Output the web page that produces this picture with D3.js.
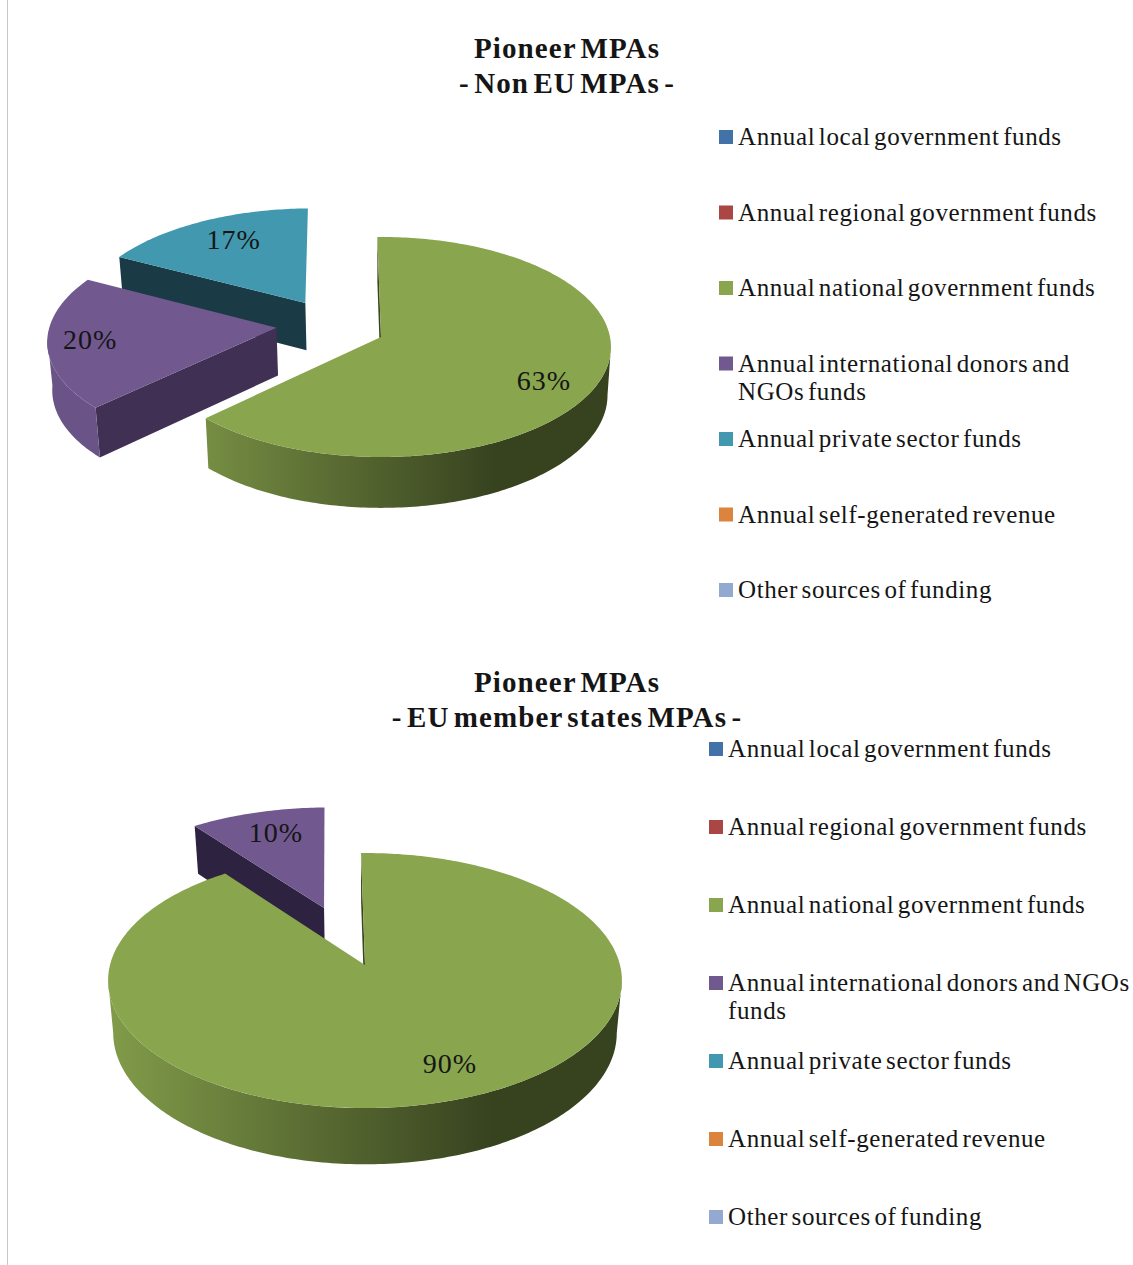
<!DOCTYPE html>
<html>
<head>
<meta charset="utf-8">
<script src="https://cdn.jsdelivr.net/npm/d3@7"></script>
<style>
html, body { margin: 0; padding: 0; background: #fff; }
text { font-family: "Liberation Serif", serif; fill: #151515; }
.title { font-size: 29px; font-weight: bold; text-anchor: middle; letter-spacing: 1.1px; word-spacing: -4px; }
.legend { font-size: 25px; letter-spacing: 0.6px; word-spacing: -3.2px; }
.pct { font-size: 28px; text-anchor: middle; letter-spacing: 1px; }
</style>
</head>
<body>
<div id="chart"></div>
<script>
var categories = [
    "Annual local government funds",
    "Annual regional government funds",
    "Annual national government funds",
    "Annual international donors and NGOs funds",
    "Annual private sector funds",
    "Annual self-generated revenue",
    "Other sources of funding"
];
var colors = ["#4272a8", "#aa4643", "#89a54e", "#71588f", "#4198af", "#db843d", "#93a9cf"];
var wallColors = ["#26394f", "#662a28", "#3a4520", "#403054", "#1a3a46", "#83501f", "#586578"];

var nonEuValues = [0, 0, 63, 20, 17, 0, 0];
var euValues = [0, 0, 90, 10, 0, 0, 0];

var width = 1133,
    height = 1265;

var svg = d3.select("#chart")
    .append("svg")
    .attr("width", width)
    .attr("height", height)
    .style("display", "block");

var defs = svg.append("defs");

svg.append("line")
    .attr("x1", 7.5).attr("x2", 7.5)
    .attr("y1", 0).attr("y2", height)
    .attr("stroke", "#c9c9c9");

// layout of each chart, offsets are in units of the pie radius
var charts = [
    {
        id: "a",
        title: ["Pioneer MPAs", "- Non EU MPAs -"],
        titleY: 58,
        values: nonEuValues,
        cx: 381, cy: 337, rx: 229, ry: 109.1, k: 0.0909, depth: 48, narrow: 0.985,
        offsets: { 3: [-0.46, -0.085], 4: [-0.34, -0.32] },
        walls: { 3: "#403054" },
        labels: { 2: [0.686, 0.39], 3: [-0.807, 0.115], 4: [-0.36, -0.65] },
        legendX: 719, legendY: [137, 590], wrapWidth: 370
    },
    {
        id: "b",
        title: ["Pioneer MPAs", "- EU member states MPAs -"],
        titleY: 692,
        values: euValues,
        cx: 365, cy: 965, rx: 255, ry: 125.6, k: 0.1216, depth: 52, narrow: 0.98,
        offsets: { 3: [-0.17, -0.48] },
        walls: { 3: "#2d2340" },
        labels: { 2: [0.304, 0.72], 3: [-0.23, -0.72] },
        legendX: 709, legendY: [749, 1217], wrapWidth: 405
    }
];

var line = d3.line();

function wrap(sel, maxWidth) {
    sel.each(function(d) {
        var self = d3.select(this),
            x = self.attr("x"),
            words = d.split(" "),
            row = [],
            tspan = self.text(null).append("tspan").attr("x", x);
        words.forEach(function(word) {
            row.push(word);
            tspan.text(row.join(" "));
            if (tspan.node().getComputedTextLength() > maxWidth && row.length > 1) {
                row.pop();
                tspan.text(row.join(" "));
                row = [word];
                tspan = self.append("tspan").attr("x", x).attr("dy", 28).text(word);
            }
        });
    });
}

charts.forEach(function(c) {
    var g = svg.append("g");

    g.selectAll("text.title")
        .data(c.title)
        .enter().append("text")
        .attr("class", "title")
        .attr("x", 567)
        .attr("y", function(d, i) { return c.titleY + i * 35; })
        .text(function(d) { return d; });

    var scaleX = d3.scaleLinear().domain([-1, 1]).range([c.cx - c.rx, c.cx + c.rx]);
    var scaleY = d3.scaleLinear().domain([-1, 1]).range([c.cy - c.ry, c.cy + c.ry]);

    // pie disc point to screen, z = 0 top face, z = 1 bottom face
    function project(u, v, z) {
        var w = 1 / (1 - c.k * v),
            x = c.cx + (scaleX(u) - c.cx) * w,
            y = c.cy + (scaleY(v) - c.cy) * w;
        if (z) {
            x = c.cx + (x - c.cx) * c.narrow;
            y += c.depth * (1 + 0.6 * (w - 1));
        }
        return [x, y];
    }

    var pie = d3.pie()
        .sort(null)
        .startAngle(-Math.PI / 180)
        .endAngle(2 * Math.PI - Math.PI / 180);

    var slices = pie(c.values)
        .map(function(s, i) { s.index = i; return s; })
        .filter(function(s) { return s.value > 0; })
        .reverse();

    function arcPoints(s, z, from, to) {
        var off = c.offsets[s.index] || [0, 0],
            n = Math.ceil((to - from) * 60);
        return d3.range(n + 1).map(function(i) {
            var a = from + (to - from) * i / n;
            return project(off[0] + Math.sin(a), off[1] - Math.cos(a), z);
        });
    }

    // the rim shows only between the left and right extremes of the ellipse
    var rimStart = Math.acos(-c.k),
        rimEnd = 2 * Math.PI - rimStart;

    slices.forEach(function(s) {
        var off = c.offsets[s.index] || [0, 0],
            base = colors[s.index],
            wall = c.walls[s.index] || wallColors[s.index],
            apexTop = project(off[0], off[1], 0),
            apexBottom = project(off[0], off[1], 1),
            top = arcPoints(s, 0, s.startAngle, s.endAngle);

        var gradId = "side-" + c.id + "-" + s.index;
        var grad = defs.append("linearGradient")
            .attr("id", gradId)
            .attr("gradientUnits", "userSpaceOnUse")
            .attr("x1", c.cx - c.rx).attr("x2", c.cx + c.rx)
            .attr("y1", 0).attr("y2", 0);
        grad.append("stop").attr("offset", 0)
            .attr("stop-color", d3.interpolateRgb(base, "#000")(0.06));
        grad.append("stop").attr("offset", 0.75)
            .attr("stop-color", d3.interpolateRgb(base, "#000")(0.6));
        grad.append("stop").attr("offset", 1)
            .attr("stop-color", d3.interpolateRgb(base, "#000")(0.6));

        // straight cut at the start of the slice, faces the viewer on this side
        if (Math.sin(s.startAngle) <= 0) {
            g.append("path")
                .attr("d", line([apexTop, top[0],
                    project(off[0] + Math.sin(s.startAngle), off[1] - Math.cos(s.startAngle), 1),
                    apexBottom]) + "Z")
                .attr("fill", wall);
        }
        // straight cut at the end of the slice
        if (Math.sin(s.endAngle) > 0) {
            g.append("path")
                .attr("d", line([apexTop, top[top.length - 1],
                    project(off[0] + Math.sin(s.endAngle), off[1] - Math.cos(s.endAngle), 1),
                    apexBottom]) + "Z")
                .attr("fill", wall);
        }

        // rim
        var from = Math.max(s.startAngle, rimStart),
            to = Math.min(s.endAngle, rimEnd);
        if (from < to) {
            var rimTop = arcPoints(s, 0, from, to),
                rimBottom = arcPoints(s, 1, from, to);
            g.append("path")
                .attr("d", line(rimTop.concat(rimBottom.reverse())) + "Z")
                .attr("fill", "url(#" + gradId + ")");
        }

        // top face
        g.append("path")
            .attr("d", line([apexTop].concat(top)) + "Z")
            .attr("fill", base);
    });

    slices.forEach(function(s) {
        var off = c.offsets[s.index] || [0, 0],
            l = c.labels[s.index],
            p = project(off[0] + l[0], off[1] + l[1], 0);
        g.append("text")
            .attr("class", "pct")
            .attr("x", p[0])
            .attr("y", p[1] + 9)
            .text(s.value + "%");
    });

    var legendScale = d3.scalePoint()
        .domain(categories)
        .range(c.legendY);

    var rows = g.selectAll("g.row")
        .data(categories)
        .enter().append("g")
        .attr("class", "row");

    rows.append("rect")
        .attr("x", c.legendX)
        .attr("y", function(d) { return legendScale(d) - 7; })
        .attr("width", 14)
        .attr("height", 14)
        .attr("fill", function(d, i) { return colors[i]; });

    rows.append("text")
        .attr("class", "legend")
        .attr("x", c.legendX + 19)
        .attr("y", function(d) { return legendScale(d) + 8; })
        .text(function(d) { return d; })
        .call(wrap, c.wrapWidth);
});
</script>
</body>
</html>
